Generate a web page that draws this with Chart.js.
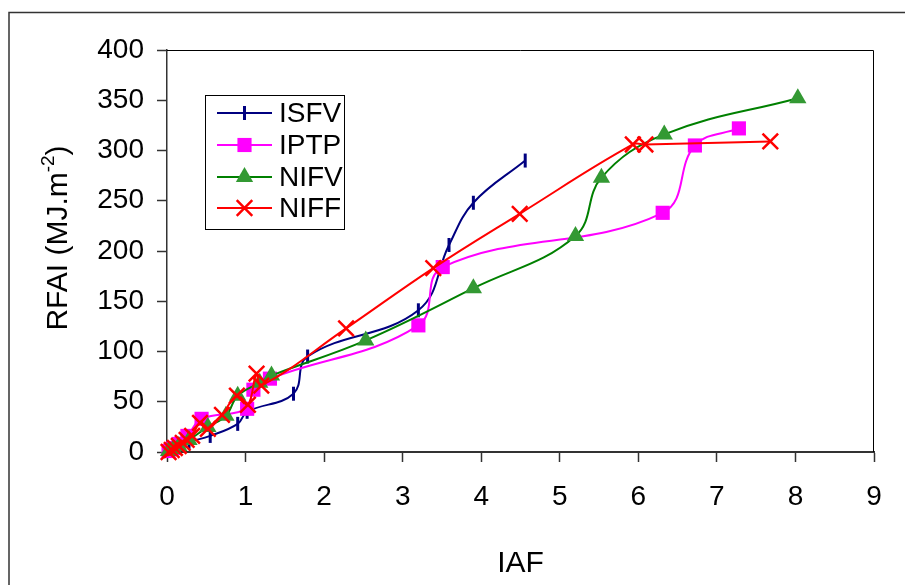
<!DOCTYPE html>
<html>
<head>
<meta charset="utf-8">
<script src="https://cdn.jsdelivr.net/npm/chart.js@4/dist/chart.umd.min.js"></script>
<style>
  html, body { margin: 0; padding: 0; background: #fff; }
  canvas { display: block; }
</style>
</head>
<body>
<canvas id="c" width="905" height="585"></canvas>
<script>
// ---- Data ----
const xTicks = [0, 1, 2, 3, 4, 5, 6, 7, 8, 9];
const yTicks = [0, 50, 100, 150, 200, 250, 300, 350, 400];
const xTitle = "IAF";
const yTitleMain = "RFAI (MJ.m";
const yTitleSup = "-2";
const yTitleEnd = ")";

const seriesNames = ["ISFV", "IPTP", "NIFV", "NIFF"];

const isfvX = [0.02, 0.08, 0.15, 0.28, 0.55, 0.90, 1.02, 1.61, 1.79, 3.20, 3.59, 3.90, 4.56];
const isfvY = [1, 3, 6, 10, 16, 28, 40, 58, 95, 141, 206, 248, 290];

const iptpX = [0.02, 0.08, 0.15, 0.26, 0.44, 1.02, 1.10, 1.31, 3.20, 3.51, 6.31, 6.72, 7.28];
const iptpY = [1, 4, 8, 16, 33, 43, 62, 73, 126, 184, 238, 305, 322];

const nifvX = [0.02, 0.08, 0.15, 0.28, 0.52, 0.75, 0.90, 1.18, 1.33, 2.53, 3.90, 5.20, 5.53, 6.33, 8.03];
const nifvY = [1, 3, 6, 12, 25, 36, 56, 69, 76, 111, 163, 215, 273, 316, 352];

const niffX = [0.02, 0.06, 0.10, 0.15, 0.20, 0.25, 0.32, 0.42, 0.52, 0.70, 0.89, 1.03, 1.14, 1.20, 2.28, 3.39, 4.49, 5.93, 6.09, 7.68];
const niffY = [0, 2, 4, 6, 9, 12, 16, 29, 23, 37, 56, 47, 78, 66, 123, 183, 237, 306, 306, 309];

// ---- Build datasets ----
const zip = (xs, ys) => xs.map((x, i) => ({ x: x, y: ys[i] }));
const FONT = '"Liberation Sans", Arial, sans-serif';

const datasets = [
  { label: seriesNames[0], data: zip(isfvX, isfvY), borderColor: '#000080', backgroundColor: '#000080',
    pointStyle: 'line', pointRotation: 90, pointRadius: 7, pointBorderWidth: 3, pointBorderColor: '#000080', order: 4 },
  { label: seriesNames[1], data: zip(iptpX, iptpY), borderColor: '#FF00FF', backgroundColor: '#FF00FF',
    pointStyle: 'rect', pointRadius: 10, pointBorderWidth: 0, pointBorderColor: '#FF00FF', order: 3 },
  { label: seriesNames[2], data: zip(nifvX, nifvY), borderColor: '#008000', backgroundColor: '#339933',
    pointStyle: 'triangle', pointRadius: 10, pointBorderWidth: 0, pointBorderColor: '#339933', order: 2 },
  { label: seriesNames[3], data: zip(niffX, niffY), borderColor: '#FF0000', backgroundColor: '#FF0000',
    pointStyle: 'crossRot', pointRadius: 11, pointBorderWidth: 2.5, pointBorderColor: '#FF0000', order: 1 }
].map(d => Object.assign({
  showLine: true, borderWidth: 2, tension: 0.4, fill: false, clip: false,
  pointHoverRadius: d.pointRadius
}, d));

// ---- Decorations plugin ----
const deco = {
  id: 'deco',
  afterDraw(chart) {
    const ctx = chart.ctx;
    const a = chart.chartArea;
    ctx.save();
    // outer chart border (extends beyond canvas on right and bottom)
    ctx.strokeStyle = '#333';
    ctx.lineWidth = 1.5;
    ctx.beginPath();
    ctx.moveTo(9, 600);
    ctx.lineTo(9, 12.5);
    ctx.lineTo(920, 12.5);
    ctx.stroke();
    // plot area top/right border
    ctx.strokeStyle = '#000';
    ctx.lineWidth = 1;
    ctx.beginPath();
    ctx.moveTo(a.left, a.top + 0.5);
    ctx.lineTo(a.right - 0.5, a.top + 0.5);
    ctx.lineTo(a.right - 0.5, a.bottom);
    ctx.stroke();

    // x title
    ctx.fillStyle = '#000';
    ctx.font = '30px ' + FONT;
    ctx.textAlign = 'center';
    ctx.textBaseline = 'middle';
    ctx.fillText(xTitle, (a.left + a.right) / 2, 564);

    // y title with superscript
    ctx.save();
    ctx.translate(56, 238);
    ctx.rotate(-Math.PI / 2);
    const mainFont = '30px ' + FONT, supFont = '19px ' + FONT;
    ctx.font = mainFont; const w1 = ctx.measureText(yTitleMain).width;
    const w3 = ctx.measureText(yTitleEnd).width;
    ctx.font = supFont; const w2 = ctx.measureText(yTitleSup).width;
    let x0 = -(w1 + w2 + w3) / 2;
    ctx.textAlign = 'left';
    ctx.textBaseline = 'alphabetic';
    ctx.font = mainFont; ctx.fillText(yTitleMain, x0, 11);
    ctx.font = supFont; ctx.fillText(yTitleSup, x0 + w1, -2);
    ctx.font = mainFont; ctx.fillText(yTitleEnd, x0 + w1 + w2, 11);
    ctx.restore();

    // legend
    const lx = 205.5, ly = 95.5, lw = 139, lh = 134;
    ctx.fillStyle = '#fff';
    ctx.fillRect(lx, ly, lw, lh);
    ctx.strokeStyle = '#000';
    ctx.lineWidth = 1;
    ctx.strokeRect(lx, ly, lw, lh);
    const rows = [113, 145, 177, 208];
    chart.data.datasets.forEach((ds, i) => {
      const y = rows[i];
      ctx.strokeStyle = ds.borderColor;
      ctx.lineWidth = 2;
      ctx.beginPath();
      ctx.moveTo(217, y);
      ctx.lineTo(272, y);
      ctx.stroke();
      ctx.fillStyle = ds.backgroundColor;
      ctx.strokeStyle = ds.pointBorderColor;
      ctx.lineWidth = ds.pointBorderWidth || 0;
      Chart.helpers.drawPoint(ctx, {
        pointStyle: ds.pointStyle, rotation: ds.pointRotation || 0,
        radius: ds.pointRadius, borderWidth: ds.pointBorderWidth
      }, 244.5, y);
      ctx.fillStyle = '#000';
      ctx.font = '28px ' + FONT;
      ctx.textAlign = 'left';
      ctx.textBaseline = 'middle';
      ctx.fillText(ds.label, 279, y + 1);
    });
    ctx.restore();
  }
};

new Chart(document.getElementById('c'), {
  type: 'scatter',
  data: { datasets: datasets },
  plugins: [deco],
  options: {
    responsive: false,
    devicePixelRatio: 1,
    animation: false,
    layout: { padding: { top: 50, right: 31, left: 0, bottom: 0 } },
    plugins: { legend: { display: false }, tooltip: { enabled: false } },
    scales: {
      x: {
        type: 'linear', min: 0, max: 9, position: 'bottom',
        afterBuildTicks: ax => { ax.ticks = xTicks.map(v => ({ value: v })); },
        afterFit: ax => { ax.height = 133; },
        ticks: { color: '#000', font: { size: 28, family: FONT }, padding: 18, maxRotation: 0, autoSkip: false },
        grid: { drawOnChartArea: false, tickLength: 10, tickColor: '#333', tickWidth: 1.5 },
        border: { color: '#333', width: 2 }
      },
      y: {
        type: 'linear', min: 0, max: 400,
        afterBuildTicks: ax => { ax.ticks = yTicks.map(v => ({ value: v })); },
        afterFit: ax => { ax.width = 167; },
        ticks: { color: '#000', font: { size: 28, family: FONT }, padding: 13, autoSkip: false },
        grid: { drawOnChartArea: false, tickLength: 10, tickColor: '#333', tickWidth: 1.5 },
        border: { color: '#333', width: 1.5 }
      }
    }
  }
});
</script>
</body>
</html>
